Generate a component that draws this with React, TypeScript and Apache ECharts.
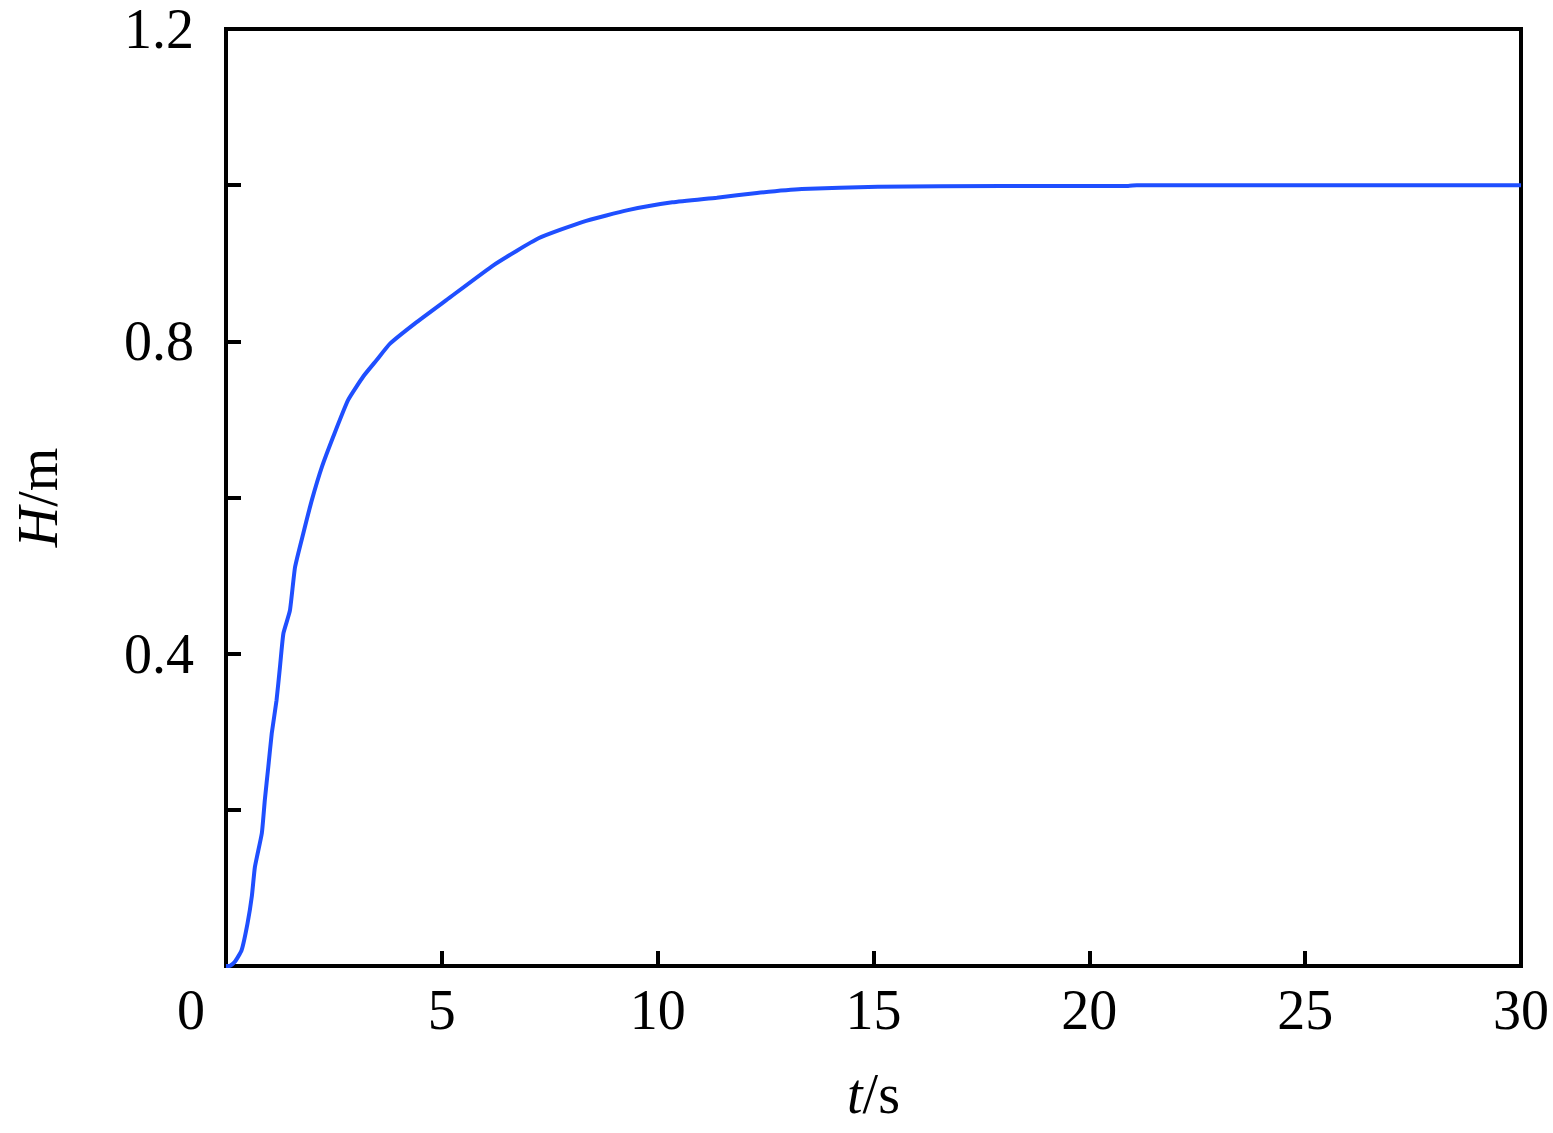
import React, { useEffect, useRef } from "react";
import * as echarts from "echarts";

const timeS = [0, 0.08, 0.2, 0.36, 0.5, 0.6, 0.67, 0.83, 0.9, 0.98, 1.06, 1.17, 1.25, 1.33, 1.48, 1.6, 1.79, 1.99, 2.22, 2.52, 2.83, 3.18, 3.49, 3.8, 4.38, 5.11, 6.21, 7.24, 8.27, 9.31, 10.34, 11.37, 12.3, 13.34, 15.1, 18, 20.9, 21.1, 25, 30];
const heightM = [0, 0, 0.005, 0.02, 0.055, 0.09, 0.127, 0.17, 0.213, 0.255, 0.298, 0.34, 0.383, 0.426, 0.455, 0.511, 0.554, 0.597, 0.639, 0.683, 0.725, 0.755, 0.776, 0.797, 0.823, 0.853, 0.898, 0.932, 0.953, 0.968, 0.978, 0.984, 0.99, 0.995, 0.998, 0.999, 0.999, 1.0, 1.0, 1.0];
const yLabelValues = [0.4, 0.8, 1.2];

const FONT = "'Liberation Serif', 'Times New Roman', serif";

export default function App() {
  const ref = useRef<HTMLDivElement>(null);
  useEffect(() => {
    if (!ref.current) return;
    const chart = echarts.init(ref.current, undefined, { renderer: "svg" });
    const data = timeS.map((t, i) => [t, heightM[i]]);
    chart.setOption({
      animation: false,
      backgroundColor: "#ffffff",
      grid: {
        left: 226,
        right: 32,
        top: 29,
        bottom: 167,
        show: true,
        borderColor: "#000",
        borderWidth: 4,
        backgroundColor: "transparent",
      },
      xAxis: {
        type: "value",
        min: 0,
        max: 30,
        interval: 5,
        name: "{i|t}{n|/s}",
        nameLocation: "middle",
        nameGap: 100,
        nameTextStyle: {
          rich: {
            i: { fontFamily: FONT, fontSize: 56, fontStyle: "italic", color: "#000" },
            n: { fontFamily: FONT, fontSize: 56, color: "#000" },
          },
        },
        axisLine: { show: true, lineStyle: { color: "#000", width: 4 } },
        axisTick: { show: true, inside: true, length: 15, lineStyle: { color: "#000", width: 4 } },
        splitLine: { show: false },
        axisLabel: {
          margin: 16,
          fontFamily: FONT,
          fontSize: 56,
          color: "#000",
          formatter: (v: number) => (v === 0 ? "{z|0}" : String(v)),
          rich: {
            z: { fontFamily: FONT, fontSize: 56, color: "#000", padding: [0, 70, 0, 0] },
          },
        },
      },
      yAxis: {
        type: "value",
        min: 0,
        max: 1.2,
        interval: 0.2,
        name: "{i|H}{n|/m}",
        nameLocation: "middle",
        nameGap: 160,
        nameRotate: 90,
        nameTextStyle: {
          rich: {
            i: { fontFamily: FONT, fontSize: 56, fontStyle: "italic", color: "#000" },
            n: { fontFamily: FONT, fontSize: 56, color: "#000" },
          },
        },
        axisLine: { show: true, lineStyle: { color: "#000", width: 4 } },
        axisTick: { show: true, inside: true, length: 15, lineStyle: { color: "#000", width: 4 } },
        splitLine: { show: false },
        axisLabel: {
          margin: 32,
          fontFamily: FONT,
          fontSize: 56,
          lineHeight: 40,
          color: "#000",
          formatter: (v: number) =>
            yLabelValues.some((y) => Math.abs(y - v) < 1e-6) ? v.toFixed(1) : "",
        },
      },
      series: [
        {
          type: "line",
          data,
          showSymbol: false,
          smooth: 0.15,
          lineStyle: { color: "#1f4fff", width: 4 },
        },
      ],
    });
    return () => chart.dispose();
  }, []);
  return (
    <div
      ref={ref}
      style={{ position: "fixed", left: 0, top: 0, width: 1553, height: 1133, background: "#fff" }}
    />
  );
}
